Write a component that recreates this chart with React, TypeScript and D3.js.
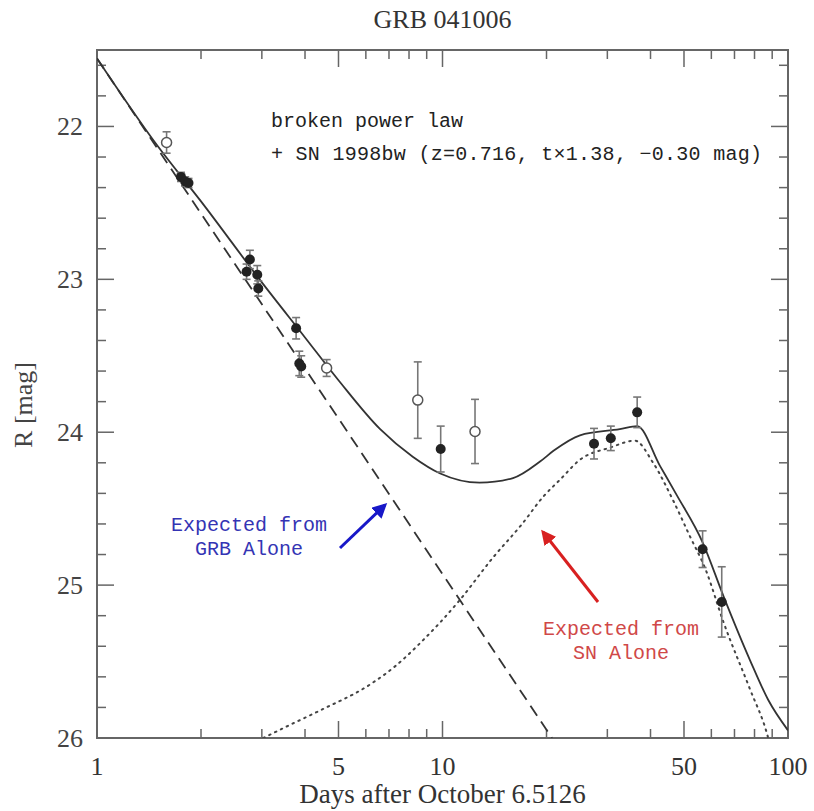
import * as d3 from 'd3';

// model curves (days, R mag)
const solidT = [1, 1.5, 2, 3, 4, 5, 6.6, 8.2, 9.85, 12.8, 16, 19.2, 21, 25, 32.6, 36.6, 42.6, 47.6, 56.6, 65, 77.6, 87.6, 100];
const solidMag = [21.555, 22.13, 22.49, 23.02, 23.38, 23.66, 23.98, 24.16, 24.27, 24.33, 24.3, 24.19, 24.12, 24.02, 23.98, 23.96, 24.22, 24.41, 24.72, 25.07, 25.49, 25.75, 25.95];

const grbT = [1, 5.77, 20.75];
const grbMag = [21.555, 24.12, 26.0];

const snT = [3.03, 3.5, 4.42, 6.17, 7.3, 8.61, 11.2, 14, 17, 19.6, 21.9, 25, 30.6, 36, 40.7, 46.6, 52, 57.8, 65, 77.6, 86.9, 90];
const snMag = [26.0, 25.93, 25.82, 25.65, 25.53, 25.38, 25.1, 24.82, 24.6, 24.42, 24.31, 24.18, 24.1, 24.055, 24.2, 24.45, 24.68, 24.9, 25.24, 25.68, 25.97, 26.1];

// photometry
const filledT = [1.75, 1.8, 1.84, 2.71, 2.77, 2.91, 2.93, 3.77, 3.85, 3.9, 9.88, 27.45, 30.7, 36.6, 56.6, 64.3];
const filledMag = [22.33, 22.36, 22.37, 22.95, 22.87, 22.97, 23.06, 23.32, 23.55, 23.57, 24.11, 24.075, 24.04, 23.87, 24.765, 25.11];
const filledErr = [0.03, 0.03, 0.03, 0.05, 0.06, 0.06, 0.05, 0.07, 0.08, 0.07, 0.15, 0.1, 0.08, 0.1, 0.12, 0.23];

const openT = [1.59, 4.62, 8.48, 12.42];
const openMag = [22.105, 23.58, 23.79, 23.995];
const openErr = [0.07, 0.055, 0.25, 0.21];

const xLabels = [1, 5, 10, 50, 100];
const yLabels = [22, 23, 24, 25, 26];

const W = 814;
const H = 811;
const left = 97, right = 788, top = 50, bottom = 738;

const App = () => {
  const x = d3.scaleLog().domain([1, 100]).range([left, right]);
  const y = d3.scaleLinear().domain([21.5, 26]).range([top, bottom]);

  const line = d3
    .line<[number, number]>()
    .x(d => x(d[0]))
    .y(d => y(d[1]))
    .curve(d3.curveMonotoneX);

  const solid = line(solidT.map((t, i) => [t, solidMag[i]]));
  const grb = d3.line<[number, number]>().x(d => x(d[0])).y(d => y(d[1]))(grbT.map((t, i) => [t, grbMag[i]]));
  const sn = line(snT.map((t, i) => [t, snMag[i]]));

  // ticks
  const xTicks: number[] = [];
  [1, 10].forEach(dec => {
    for (let k = 1; k < 10; k++) xTicks.push(dec * k);
  });
  xTicks.push(100);
  const yTicks = d3.range(21.6, 26.001, 0.2).map(v => +v.toFixed(1));

  const axisColor = '#666';
  const serif = '"Liberation Serif", "DejaVu Serif", serif';
  const mono = '"Liberation Mono", "DejaVu Sans Mono", monospace';

  const errBar = (t: number, m: number, e: number, key: string) => (
    <g key={key} stroke="#777" strokeWidth={1.6}>
      <line x1={x(t)} x2={x(t)} y1={y(m - e)} y2={y(m + e)} />
      <line x1={x(t) - 4} x2={x(t) + 4} y1={y(m - e)} y2={y(m - e)} />
      <line x1={x(t) - 4} x2={x(t) + 4} y1={y(m + e)} y2={y(m + e)} />
    </g>
  );

  return (
    <svg width={W} height={H} style={{ position: 'absolute', left: 0, top: 0, background: '#fff' }}>
      <defs>
        <clipPath id="plot">
          <rect x={left} y={top} width={right - left} height={bottom - top} />
        </clipPath>
        <marker id="headBlue" viewBox="0 0 10 10" refX="8" refY="5" markerWidth="5" markerHeight="5" orient="auto">
          <path d="M0,0 L10,5 L0,10 z" fill="#1818c8" />
        </marker>
        <marker id="headRed" viewBox="0 0 10 10" refX="8" refY="5" markerWidth="5" markerHeight="5" orient="auto">
          <path d="M0,0 L10,5 L0,10 z" fill="#d82020" />
        </marker>
      </defs>

      {/* title */}
      <text x={(left + right) / 2} y={28} textAnchor="middle" fontFamily={serif} fontSize={26} fill="#333">
        GRB 041006
      </text>

      {/* frame */}
      <rect x={left} y={top} width={right - left} height={bottom - top} fill="none" stroke={axisColor} strokeWidth={2} />

      {/* x ticks, bottom and top */}
      {xTicks.map(t => {
        const len = xLabels.includes(t) ? 17 : 9;
        return (
          <g key={'xt' + t} stroke={axisColor} strokeWidth={1.5}>
            <line x1={x(t)} x2={x(t)} y1={bottom} y2={bottom - len} />
            <line x1={x(t)} x2={x(t)} y1={top} y2={top + len} />
          </g>
        );
      })}
      {yTicks.map(v => {
        const len = Number.isInteger(v) ? 17 : 9;
        return (
          <g key={'yt' + v} stroke={axisColor} strokeWidth={1.5}>
            <line x1={left} x2={left + len} y1={y(v)} y2={y(v)} />
            <line x1={right} x2={right - len} y1={y(v)} y2={y(v)} />
          </g>
        );
      })}

      {/* tick labels */}
      {xLabels.map(t => (
        <text key={'xl' + t} x={x(t)} y={775} textAnchor="middle" fontFamily={serif} fontSize={26} fill="#333">
          {t}
        </text>
      ))}
      {yLabels.map(v => (
        <text key={'yl' + v} x={83} y={y(v) + 9} textAnchor="end" fontFamily={serif} fontSize={26} fill="#444">
          {v}
        </text>
      ))}

      {/* axis titles */}
      <text x={(left + right) / 2} y={803} textAnchor="middle" fontFamily={serif} fontSize={27} fill="#333">
        Days after October 6.5126
      </text>
      <text transform={`translate(32,${405}) rotate(-90)`} textAnchor="middle" fontFamily={serif} fontSize={26} fill="#444">
        R [mag]
      </text>

      {/* model curves */}
      <g clipPath="url(#plot)" fill="none">
        <path d={grb ?? ''} stroke="#333" strokeWidth={1.8} strokeDasharray="12 7" />
        <path d={sn ?? ''} stroke="#444" strokeWidth={2} strokeDasharray="1.5 5" strokeLinecap="round" />
        <path d={solid ?? ''} stroke="#333" strokeWidth={1.8} />
      </g>

      {/* data */}
      {filledT.map((t, i) => errBar(t, filledMag[i], filledErr[i], 'fe' + i))}
      {openT.map((t, i) => errBar(t, openMag[i], openErr[i], 'oe' + i))}
      {filledT.map((t, i) => (
        <circle key={'f' + i} cx={x(t)} cy={y(filledMag[i])} r={5} fill="#222" />
      ))}
      {openT.map((t, i) => (
        <circle key={'o' + i} cx={x(t)} cy={y(openMag[i])} r={5} fill="#fff" stroke="#555" strokeWidth={1.5} />
      ))}

      {/* legend text */}
      <text x={271} y={127} fontFamily={mono} fontSize={20} fill="#222">
        broken power law
      </text>
      <text x={271} y={160} fontFamily={mono} fontSize={20} fill="#222" textLength={491} lengthAdjust="spacing">
        + SN 1998bw (z=0.716, t×1.38, −0.30 mag)
      </text>

      {/* annotations */}
      <text x={249} y={531} textAnchor="middle" fontFamily={mono} fontSize={20} fill="#3434b4">
        Expected from
      </text>
      <text x={249} y={555} textAnchor="middle" fontFamily={mono} fontSize={20} fill="#3434b4">
        GRB Alone
      </text>
      <line x1={340} y1={548} x2={385} y2={505} stroke="#1818c8" strokeWidth={3} markerEnd="url(#headBlue)" />

      <text x={621} y={635} textAnchor="middle" fontFamily={mono} fontSize={20} fill="#d04848">
        Expected from
      </text>
      <text x={621} y={659} textAnchor="middle" fontFamily={mono} fontSize={20} fill="#d04848">
        SN Alone
      </text>
      <line x1={598} y1={602} x2={543} y2={532} stroke="#d82020" strokeWidth={3} markerEnd="url(#headRed)" />
    </svg>
  );
};

export default App;
